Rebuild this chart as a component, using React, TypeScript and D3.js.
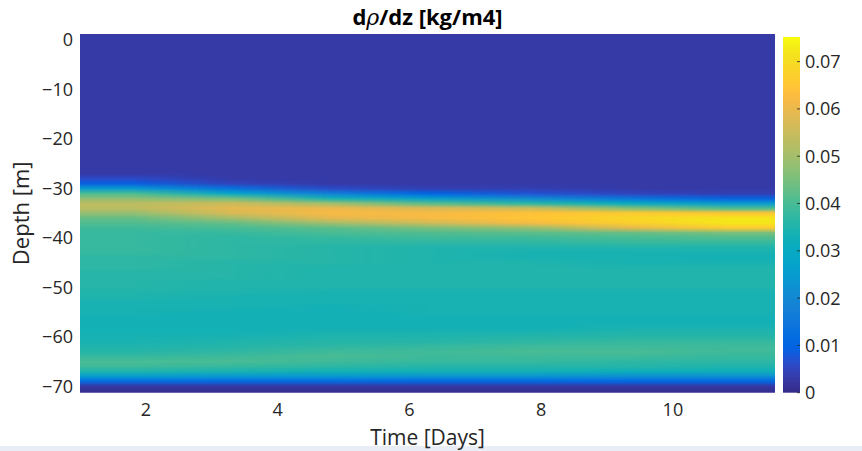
import React, { useMemo } from "react";
import * as d3 from "d3";

// ---- Data ----
// Column centres of the grid, in days
const TIME_DAYS = [1.75, 3.26, 4.77, 6.28, 7.78, 9.29, 10.8];
// Row centres of the grid, depth in metres
const DEPTH_M = [
  1, 0, -1, -2, -3, -4, -5, -6, -7, -8, -9, -10, -11, -12, -13, -14, -15, -16, -17, -18, -19, -20,
  -21, -22, -23, -24, -25, -26, -27, -28, -29, -30, -31, -32, -33, -34, -35, -36, -37, -38, -39, -40,
  -41, -42, -43, -44, -45, -46, -47, -48, -49, -50, -51, -52, -53, -54, -55, -56, -57, -58, -59, -60,
  -61, -62, -63, -64, -65, -66, -67, -68, -69, -70, -71,
];
// d(rho)/dz in 1e-3 kg/m4; one row per depth, one column per time
const DRHO_DZ_MILLI = [
  [3, 3, 3, 3, 3, 3, 3], // 1
  [3, 3, 3, 3, 3, 3, 3], // 0
  [3, 3, 3, 3, 3, 3, 3],
  [3, 3, 3, 3, 3, 3, 3],
  [3, 3, 3, 3, 3, 3, 3],
  [3, 3, 3, 3, 3, 3, 3],
  [3, 3, 3, 3, 3, 3, 3],
  [3, 3, 3, 3, 3, 3, 3],
  [3, 3, 3, 3, 3, 3, 3],
  [3, 3, 3, 3, 3, 3, 3],
  [3, 3, 3, 3, 3, 3, 3],
  [3, 3, 3, 3, 3, 3, 3], // -10
  [3, 3, 3, 3, 3, 3, 3],
  [3, 3, 3, 3, 3, 3, 3],
  [3, 3, 3, 3, 3, 3, 3],
  [3, 3, 3, 3, 3, 3, 3],
  [3, 3, 3, 3, 3, 3, 3],
  [3, 3, 3, 3, 3, 3, 3],
  [3, 3, 3, 3, 3, 3, 3],
  [3, 3, 3, 3, 3, 3, 3],
  [3, 3, 3, 3, 3, 3, 3],
  [3, 3, 3, 3, 3, 3, 3], // -20
  [3, 3, 3, 3, 3, 3, 3],
  [3, 3, 3, 3, 3, 3, 3],
  [3, 3, 3, 3, 3, 3, 3],
  [3, 3, 3, 3, 3, 3, 3],
  [3, 3, 3, 3, 3, 3, 3],
  [3, 3, 3, 3, 3, 3, 3], // -26
  [3, 3, 3, 3, 3, 3, 3], // -27
  [6, 3, 3, 3, 3, 3, 3], // -28
  [9, 5, 3, 3, 3, 3, 3], // -29
  [24, 13, 6, 4, 4, 3, 3], // -30
  [40, 28, 17, 10, 7, 5, 4], // -31
  [47, 44, 33, 25, 20, 14, 9], // -32
  [53, 55, 49, 41, 36, 30, 24], // -33
  [53, 59, 60, 57, 55, 46, 40], // -34
  [48, 57, 62, 62, 64, 66, 65], // -35
  [43, 50, 59, 62, 65, 69, 72], // -36
  [41, 43, 50, 56, 62, 67, 72], // -37
  [39, 40, 42, 45, 48, 59, 66], // -38
  [38, 38, 40, 41, 42, 43, 45], // -39
  [38, 37, 38, 39, 39, 40, 41], // -40
  [38, 37, 37, 37, 37, 38, 38], // -41
  [38, 37, 36, 35, 35, 35, 35], // -42
  [38, 37, 36, 35, 34, 34, 34], // -43
  [37, 37, 36, 35, 34, 34, 33], // -44
  [37, 36, 36, 35, 35, 34, 34], // -45
  [37, 36, 35, 35, 35, 35, 35], // -46
  [36, 36, 35, 35, 35, 35, 35], // -47
  [36, 36, 35, 35, 35, 35, 35], // -48
  [36, 35, 35, 35, 35, 35, 35], // -49
  [36, 35, 35, 35, 35, 35, 35], // -50
  [35, 35, 34, 34, 34, 34, 34], // -51
  [35, 34, 34, 34, 34, 34, 34], // -52
  [34, 34, 34, 34, 34, 34, 34], // -53
  [34, 34, 33, 34, 34, 34, 34], // -54
  [34, 33, 33, 34, 34, 34, 34], // -55
  [33, 33, 33, 33, 33, 33, 33], // -56
  [33, 33, 33, 33, 33, 33, 33], // -57
  [33, 33, 33, 33, 33, 34, 34], // -58
  [33, 33, 34, 34, 34, 35, 35], // -59
  [34, 34, 35, 35, 36, 36, 36], // -60
  [34, 35, 36, 36, 37, 38, 38], // -61
  [35, 36, 37, 38, 39, 39, 39], // -62
  [36, 37, 39, 39, 40, 40, 39], // -63
  [38, 39, 40, 39, 39, 39, 38], // -64
  [40, 40, 39, 38, 38, 37, 37], // -65
  [39, 38, 37, 36, 36, 36, 35], // -66
  [35, 34, 33, 33, 33, 32, 32], // -67
  [25, 24, 24, 23, 23, 22, 22], // -68
  [12, 12, 12, 11, 11, 11, 11], // -69
  [3, 3, 3, 3, 3, 3, 3], // -70
  [1, 1, 1, 1, 1, 1, 1], // -71
];

const X_TICKS = [2, 4, 6, 8, 10];
const Y_TICKS = [0, -10, -20, -30, -40, -50, -60, -70];
const C_TICKS = [0, 0.01, 0.02, 0.03, 0.04, 0.05, 0.06, 0.07];
const X_DOMAIN = [1, 11.55];
const Y_DOMAIN = [1.2, -71.35];
const C_LIMITS = [0, 0.0752];

const TITLE_PARTS = ["d", "ρ", "/dz [kg/m4]"];
const X_LABEL = "Time [Days]";
const Y_LABEL = "Depth [m]";

// ---- Style: MATLAB parula colormap ----
const PARULA: number[][] = [
  [0.2081, 0.1663, 0.5292], [0.2116, 0.1898, 0.5777], [0.2123, 0.2138, 0.627], [0.2081, 0.2386, 0.6771],
  [0.1959, 0.2645, 0.7279], [0.1707, 0.2919, 0.7792], [0.1253, 0.3242, 0.8303], [0.0591, 0.3598, 0.8683],
  [0.0117, 0.3875, 0.882], [0.006, 0.4086, 0.8828], [0.0165, 0.4266, 0.8786], [0.0329, 0.443, 0.872],
  [0.0498, 0.4586, 0.8641], [0.0629, 0.4737, 0.8554], [0.0723, 0.4887, 0.8467], [0.0779, 0.504, 0.8384],
  [0.0793, 0.52, 0.8312], [0.0749, 0.5375, 0.8263], [0.0641, 0.557, 0.824], [0.0488, 0.5772, 0.8228],
  [0.0343, 0.5966, 0.8199], [0.0265, 0.6137, 0.8135], [0.0239, 0.6287, 0.8038], [0.0231, 0.6418, 0.7913],
  [0.0228, 0.6535, 0.7768], [0.0267, 0.6642, 0.7607], [0.0384, 0.6743, 0.7436], [0.059, 0.6838, 0.7254],
  [0.0843, 0.6928, 0.7062], [0.1133, 0.7015, 0.6859], [0.1453, 0.7098, 0.6646], [0.1801, 0.7177, 0.6424],
  [0.2178, 0.725, 0.6193], [0.2586, 0.7317, 0.5954], [0.3022, 0.7376, 0.5712], [0.3482, 0.7424, 0.5473],
  [0.3953, 0.7459, 0.5244], [0.442, 0.7481, 0.5033], [0.4871, 0.7491, 0.484], [0.53, 0.7491, 0.4661],
  [0.5709, 0.7485, 0.4494], [0.6099, 0.7473, 0.4337], [0.6473, 0.7456, 0.4188], [0.6834, 0.7435, 0.4044],
  [0.7184, 0.7411, 0.3905], [0.7525, 0.7384, 0.3768], [0.7858, 0.7356, 0.3633], [0.8185, 0.7327, 0.3498],
  [0.8507, 0.7299, 0.336], [0.8824, 0.7274, 0.3217], [0.9139, 0.7258, 0.3063], [0.945, 0.7261, 0.2886],
  [0.9739, 0.7314, 0.2666], [0.9938, 0.7455, 0.2403], [0.999, 0.7653, 0.2164], [0.9955, 0.7861, 0.1967],
  [0.988, 0.8066, 0.1794], [0.9789, 0.8271, 0.1633], [0.9697, 0.8481, 0.1475], [0.9626, 0.8705, 0.1309],
  [0.9589, 0.8949, 0.1132], [0.9598, 0.9218, 0.0948], [0.9661, 0.9514, 0.0755], [0.9763, 0.9831, 0.0538],
];

const W = 862;
const H = 451;
const FONT = "'Open Sans', 'DejaVu Sans', sans-serif";
const TEXT = "#262626";

export default function App() {
  const x = d3.scaleLinear().domain(X_DOMAIN).range([80, 775]);
  const y = d3.scaleLinear().domain(Y_DOMAIN).range([34, 392.7]);
  const cb = d3.scaleLinear().domain(C_LIMITS).range([392.7, 37]);

  const parulaHex = PARULA.map((c) => d3.rgb(c[0] * 255, c[1] * 255, c[2] * 255).formatHex());
  const color = d3
    .scaleLinear<string>()
    .domain(parulaHex.map((_, i) => C_LIMITS[0] + (i / (parulaHex.length - 1)) * (C_LIMITS[1] - C_LIMITS[0])))
    .range(parulaHex)
    .interpolate(d3.interpolateRgb)
    .clamp(true);

  const href = useMemo(() => {
    const nc = TIME_DAYS.length;
    const nr = DEPTH_M.length;
    const canvas = document.createElement("canvas");
    canvas.width = nc;
    canvas.height = nr;
    const ctx = canvas.getContext("2d")!;
    const img = ctx.createImageData(nc, nr);
    for (let r = 0; r < nr; r++) {
      for (let c = 0; c < nc; c++) {
        const col = d3.rgb(color(DRHO_DZ_MILLI[r][c] / 1000));
        const k = (r * nc + c) * 4;
        img.data[k] = col.r;
        img.data[k + 1] = col.g;
        img.data[k + 2] = col.b;
        img.data[k + 3] = 255;
      }
    }
    ctx.putImageData(img, 0, 0);
    return canvas.toDataURL();
  }, []);

  const dt = (TIME_DAYS[1] - TIME_DAYS[0]) / 2;
  const dz = (DEPTH_M[0] - DEPTH_M[1]) / 2;
  const ix0 = x(TIME_DAYS[0] - dt);
  const ix1 = x(TIME_DAYS[TIME_DAYS.length - 1] + dt);
  const iy0 = y(DEPTH_M[0] + dz);
  const iy1 = y(DEPTH_M[DEPTH_M.length - 1] - dz);

  const bx0 = x(X_DOMAIN[0]);
  const bx1 = x(X_DOMAIN[1]);
  const by0 = y(Y_DOMAIN[0]);
  const by1 = y(Y_DOMAIN[1]);

  const cbx = 783;
  const cbw = 17;
  const fmtC = (v: number) => (v === 0 ? "0" : d3.format(".2f")(v));
  const fmtY = (v: number) => (v < 0 ? "\u2212" + Math.abs(v) : String(v));

  return (
    <svg
      width={W}
      height={H}
      viewBox={`0 0 ${W} ${H}`}
      style={{ position: "absolute", left: 0, top: 0, background: "#fff" }}
    >
      <defs>
        <clipPath id="axbox">
          <rect x={bx0} y={by0} width={bx1 - bx0} height={by1 - by0} />
        </clipPath>
        <linearGradient id="cbar" x1="0" y1="1" x2="0" y2="0">
          {parulaHex.map((c, i) => (
            <stop key={i} offset={i / (parulaHex.length - 1)} stopColor={c} />
          ))}
        </linearGradient>
      </defs>
      <rect x={0} y={0} width={W} height={H} fill="#fff" />
      <rect x={0} y={446} width={W} height={5} fill="#e9eef6" />

      <g clipPath="url(#axbox)">
        <image
          href={href}
          x={ix0}
          y={iy0}
          width={ix1 - ix0}
          height={iy1 - iy0}
          preserveAspectRatio="none"
        />
      </g>

      {/* colorbar */}
      <rect x={cbx} y={cb(C_LIMITS[1])} width={cbw} height={cb(C_LIMITS[0]) - cb(C_LIMITS[1])} fill="url(#cbar)" />
      {C_TICKS.map((t) => (
        <g key={t}>
          <line x1={cbx + cbw - 3} x2={cbx + cbw} y1={cb(t)} y2={cb(t)} stroke={TEXT} strokeWidth={0.8} />
          <text x={cbx + cbw + 5} y={cb(t)} dy="0.36em" fontFamily={FONT} fontSize={18} fill={TEXT}>
            {fmtC(t)}
          </text>
        </g>
      ))}

      {/* y axis */}
      {Y_TICKS.map((t) => (
        <text key={t} x={73} y={y(t)} dy="0.36em" textAnchor="end" fontFamily={FONT} fontSize={18} fill={TEXT}>
          {fmtY(t)}
        </text>
      ))}
      <text
        transform={`translate(29, ${(by0 + by1) / 2}) rotate(-90)`}
        textAnchor="middle"
        fontFamily={FONT}
        fontSize={22}
        fill={TEXT}
      >
        {Y_LABEL}
      </text>

      {/* x axis */}
      {X_TICKS.map((t) => (
        <text key={t} x={x(t)} y={416} textAnchor="middle" fontFamily={FONT} fontSize={18} fill={TEXT}>
          {t}
        </text>
      ))}
      <text x={(bx0 + bx1) / 2} y={445} textAnchor="middle" fontFamily={FONT} fontSize={21} fill={TEXT}>
        {X_LABEL}
      </text>

      {/* title */}
      <text x={(bx0 + bx1) / 2} y={25} textAnchor="middle" fontFamily={FONT} fontSize={22} fontWeight="bold" fill="#000">
        <tspan>{TITLE_PARTS[0]}</tspan>
        <tspan fontStyle="italic" fontWeight="normal" fontFamily="'DejaVu Serif', serif">
          {TITLE_PARTS[1]}
        </tspan>
        <tspan>{TITLE_PARTS[2]}</tspan>
      </text>
    </svg>
  );
}
